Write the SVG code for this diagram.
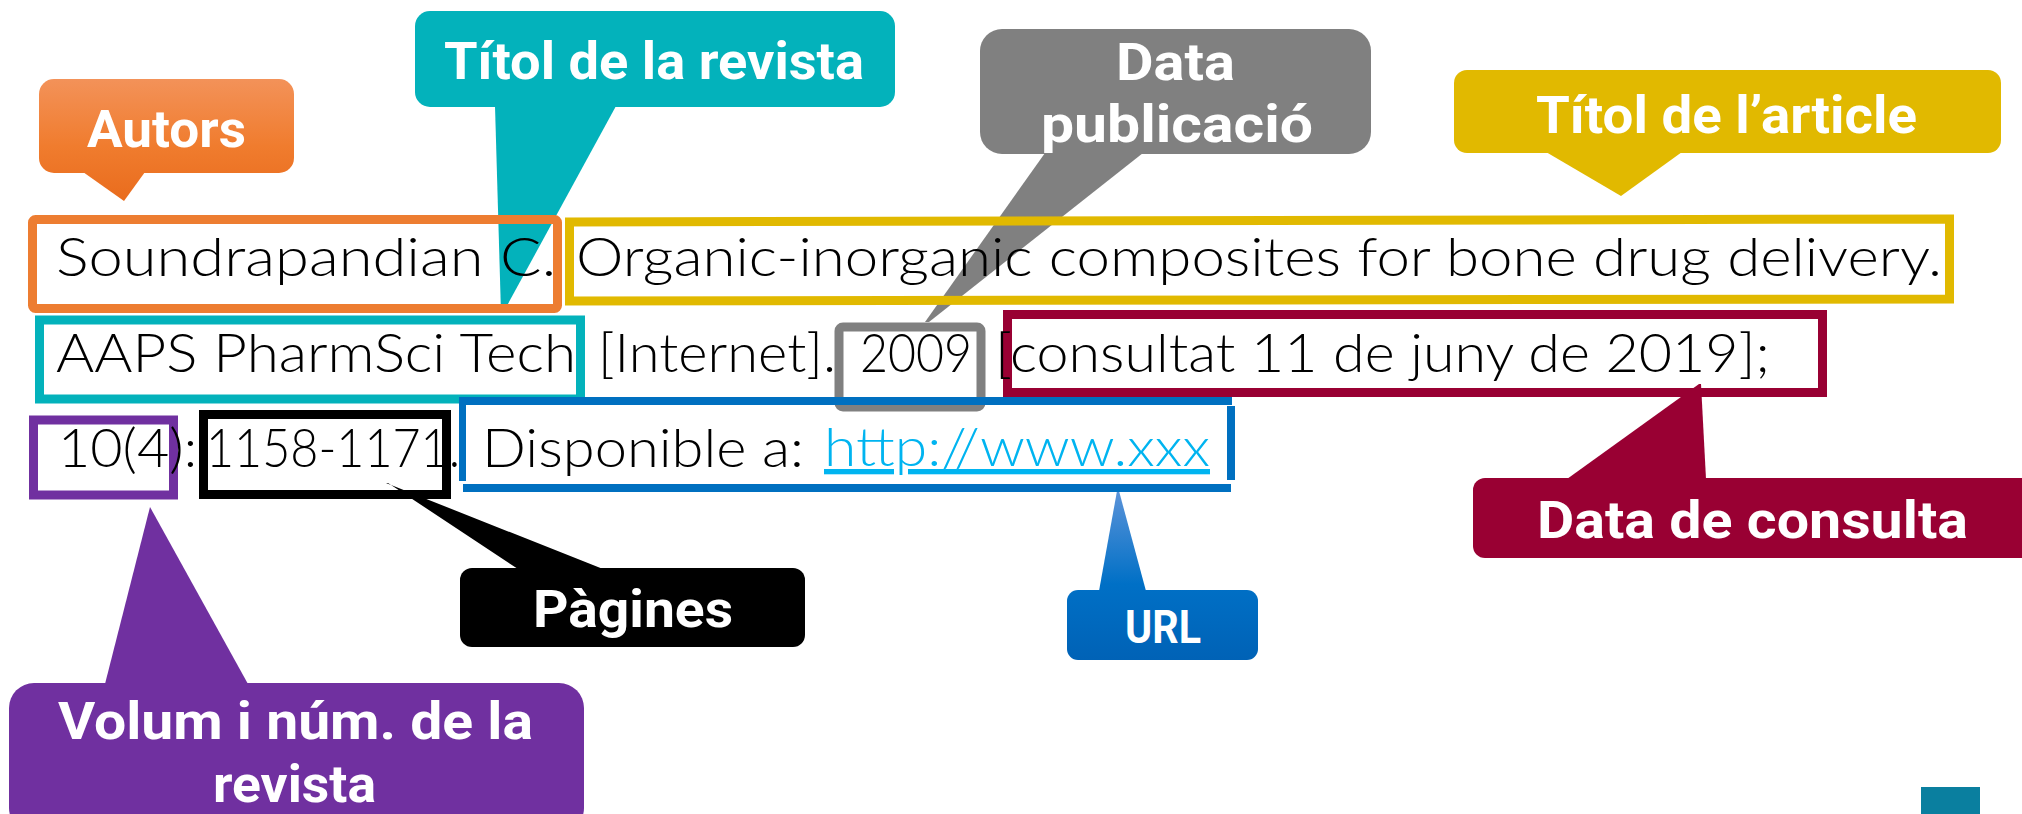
<svg xmlns="http://www.w3.org/2000/svg" width="2022" height="814" viewBox="0 0 2022 814">
  <style>
    .lbl { font-family: Roboto, "Open Sans", "Liberation Sans", sans-serif; font-weight: 700; font-size: 52px; fill: #ffffff; text-anchor: middle; }
    .cit { font-family: Lato, "Open Sans", "Liberation Sans", sans-serif; font-weight: 300; font-size: 53px; fill: #000000; }
    .link { fill: #00b4f0; text-decoration: underline; }
    .box { fill: none; stroke-width: 9; }
  </style>
  <defs>
    <linearGradient id="gOrange" gradientUnits="userSpaceOnUse" x1="0" y1="79" x2="0" y2="201">
      <stop offset="0" stop-color="#f39259"/>
      <stop offset="0.55" stop-color="#f07c2e"/>
      <stop offset="1" stop-color="#e96c1d"/>
    </linearGradient>
    <linearGradient id="gBlue" gradientUnits="userSpaceOnUse" x1="0" y1="491" x2="0" y2="660">
      <stop offset="0" stop-color="#5b93d9"/>
      <stop offset="0.55" stop-color="#0070c6"/>
      <stop offset="1" stop-color="#0062b6"/>
    </linearGradient>
  </defs>
  <rect width="2022" height="814" fill="#ffffff"/>

  <g id="connectors">
    <polygon points="83,172 145,172 124,201" fill="url(#gOrange)"/>
    <polygon points="495,106 616,106 503,313 501,313" fill="#03b2bb"/>
    <polygon points="1045,153 1143,153 929,322 925,322" fill="#808080"/>
    <polygon points="1546,152 1682,152 1621,196" fill="#e1b900"/>
    <polygon points="1567,479 1706,479 1701,384 1699,384" fill="#990033"/>
    <polygon points="603,569 518,569 388,483 386,483" fill="#000000"/>
    <polygon points="1099,591 1146,591 1119,491 1117,491" fill="url(#gBlue)"/>
    <polygon points="105,684 248,684 150,507" fill="#7030a0"/>
  </g>

  <g id="node-autors">
    <rect x="39" y="79" width="255" height="94" rx="15" fill="url(#gOrange)"/>
    <text class="lbl" x="166.5" y="147" textLength="159" lengthAdjust="spacingAndGlyphs">Autors</text>
  </g>
  <g id="node-titol-revista">
    <rect x="415" y="11" width="480" height="96" rx="15" fill="#03b2bb"/>
    <text class="lbl" x="654" y="79" textLength="420" lengthAdjust="spacingAndGlyphs">Títol de la revista</text>
  </g>
  <g id="node-data-publicacio">
    <rect x="980" y="29" width="391" height="125" rx="22" fill="#808080"/>
    <text class="lbl" x="1175.5" y="80" textLength="119" lengthAdjust="spacingAndGlyphs">Data</text>
    <text class="lbl" x="1177" y="142" textLength="272" lengthAdjust="spacingAndGlyphs">publicació</text>
  </g>
  <g id="node-titol-article">
    <rect x="1454" y="70" width="547" height="83" rx="13" fill="#e1b900"/>
    <text class="lbl" x="1726.5" y="133" textLength="381" lengthAdjust="spacingAndGlyphs">Títol de l’article</text>
  </g>
  <g id="node-data-consulta">
    <rect x="1473" y="478" width="580" height="80" rx="12" fill="#990033"/>
    <text class="lbl" x="1752.5" y="538" textLength="431" lengthAdjust="spacingAndGlyphs">Data de consulta</text>
  </g>
  <g id="node-pagines">
    <rect x="460" y="568" width="345" height="79" rx="12" fill="#000000"/>
    <text class="lbl" x="633" y="627" textLength="200" lengthAdjust="spacingAndGlyphs">Pàgines</text>
  </g>
  <g id="node-url">
    <rect x="1067" y="590" width="191" height="70" rx="11" fill="url(#gBlue)"/>
    <text class="lbl" x="1163" y="643" style="font-size:46px" textLength="76" lengthAdjust="spacingAndGlyphs">URL</text>
  </g>
  <g id="node-volum">
    <rect x="9" y="683" width="575" height="150" rx="25" fill="#7030a0"/>
    <text class="lbl" x="295.5" y="739" textLength="475" lengthAdjust="spacingAndGlyphs">Volum i núm. de la</text>
    <text class="lbl" x="294.5" y="802" textLength="163" lengthAdjust="spacingAndGlyphs">revista</text>
  </g>

  <g id="citation-boxes">
    <rect class="box" x="32.5" y="219.5" width="525" height="89" rx="3" stroke="#ed7d31"/>
    <path class="box" d="M569.5,222 L1949.5,219 L1949.5,299 L569.5,301 Z" stroke="#e1b900"/>
    <rect class="box" x="39.5" y="320" width="541" height="79" stroke="#03b2bb"/>
    <rect class="box" x="839" y="327" width="142" height="80" rx="4" stroke="#808080"/>
    <rect class="box" x="1007.5" y="314.5" width="815" height="78" stroke="#990033"/>
    <rect class="box" x="33.5" y="420" width="140" height="75" stroke="#7030a0"/>
    <rect class="box" x="203.5" y="414.5" width="243" height="80" stroke="#000000"/>
    <g fill="#0070c0">
      <rect x="459" y="397" width="773" height="8"/>
      <rect x="459" y="397" width="7" height="84"/>
      <rect x="1227" y="406" width="8" height="74"/>
      <rect x="463" y="484" width="768" height="8"/>
    </g>
  </g>

  <g id="citation-text">
    <text class="cit" x="56" y="276" textLength="500" lengthAdjust="spacingAndGlyphs">Soundrapandian C.</text>
    <text class="cit" x="576" y="276" textLength="1366" lengthAdjust="spacingAndGlyphs">Organic-inorganic composites for bone drug delivery.</text>
    <text class="cit" x="56" y="372" textLength="520" lengthAdjust="spacingAndGlyphs">AAPS PharmSci Tech</text>
    <text class="cit" x="598" y="372" textLength="238" lengthAdjust="spacingAndGlyphs">[Internet].</text>
    <text class="cit" x="860" y="372" textLength="112" lengthAdjust="spacingAndGlyphs">2009</text>
    <text class="cit" x="995" y="372" textLength="775" lengthAdjust="spacingAndGlyphs">[consultat 11 de juny de 2019];</text>
    <text class="cit" x="58" y="467" textLength="139" lengthAdjust="spacingAndGlyphs">10(4):</text>
    <text class="cit" x="206" y="467" textLength="254" lengthAdjust="spacingAndGlyphs">1158-1171.</text>
    <text class="cit" x="482" y="467" textLength="322" lengthAdjust="spacingAndGlyphs">Disponible a:</text>
    <text class="cit link" x="824" y="466" textLength="386" lengthAdjust="spacingAndGlyphs">http://www.xxx</text>
  </g>

  <rect x="1921" y="787" width="59" height="27" fill="#0a7f9f"/>
</svg>
